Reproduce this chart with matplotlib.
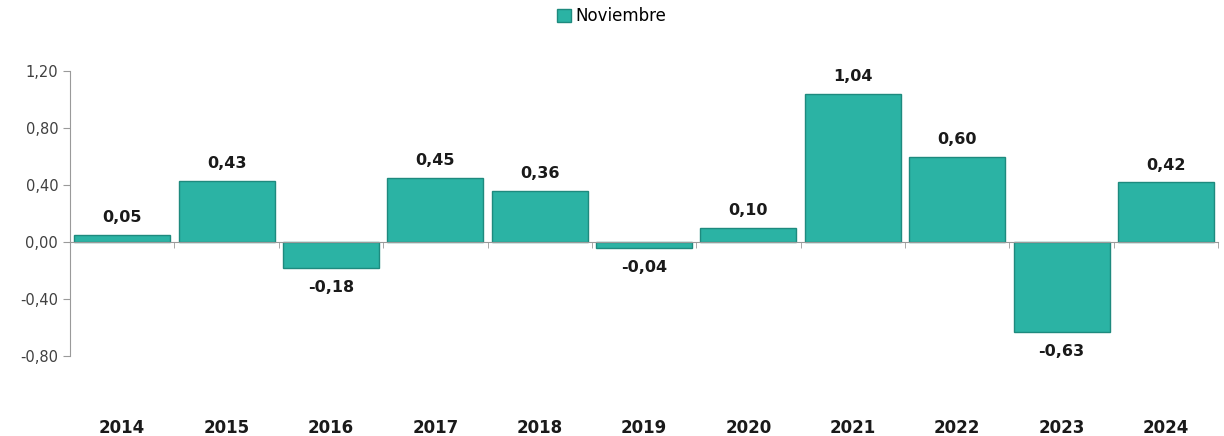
import numpy as np
import matplotlib.pyplot as plt
from matplotlib.patches import Patch

years = ['2014', '2015', '2016', '2017', '2018', '2019', '2020', '2021', '2022', '2023', '2024']
noviembre = [0.05, 0.43, -0.18, 0.45, 0.36, -0.04, 0.10, 1.04, 0.60, -0.63, 0.42]
yticks = [-0.80, -0.40, 0.00, 0.40, 0.80, 1.20]

bar_color = '#2bb3a4'
edge_color = '#1e8a7e'
gray = '#9a9a9a'

fig = plt.figure(figsize=(12.24, 4.36), dpi=100)
ax = fig.add_axes([0.0572, 0.183, 0.938, 0.654])

x = np.arange(len(years))
bars = ax.bar(x, noviembre, width=0.92, color=bar_color, edgecolor=edge_color, linewidth=1.0)

# value labels above positive / below negative bars
for xi, v in zip(x, noviembre):
    txt = f'{v:.2f}'.replace('.', ',')
    if v >= 0:
        ax.annotate(txt, (xi, v), xytext=(0, 7), textcoords='offset points',
                    ha='center', va='bottom', fontsize=11.5, fontweight='bold', color='#1a1a1a')
    else:
        ax.annotate(txt, (xi, v), xytext=(0, -9), textcoords='offset points',
                    ha='center', va='top', fontsize=11.5, fontweight='bold', color='#1a1a1a')

ax.set_xlim(-0.5, len(years) - 0.5)
ax.set_ylim(-0.80, 1.20)
ax.set_yticks(yticks)
ax.set_yticklabels([f'{t:.2f}'.replace('.', ',') for t in yticks], fontsize=10.5, color='#404040')

# zero axis with small ticks between categories, year labels far below
ax.spines['bottom'].set_position(('data', 0))
ax.spines['bottom'].set_color(gray)
ax.spines['left'].set_color(gray)
ax.spines['left'].set_bounds(-0.80, 1.20)
ax.spines['top'].set_visible(False)
ax.spines['right'].set_visible(False)
ax.set_xticks(x)
ax.set_xticklabels(years, fontsize=12, fontweight='bold', color='#1a1a1a')
ax.set_xticks(np.arange(len(years) + 1) - 0.5, minor=True)
ax.tick_params(axis='x', which='major', length=0, pad=127)
ax.tick_params(axis='x', which='minor', length=4, color=gray, direction='out')
ax.tick_params(axis='y', length=5, color=gray, direction='out')

handle = Patch(facecolor=bar_color, edgecolor=edge_color)
fig.legend([handle], ['Noviembre'], loc='upper center', bbox_to_anchor=(0.5, 1.018),
           frameon=False, fontsize=12, handlelength=0.8, handleheight=0.8, handletextpad=0.3)

fig.savefig('out.png', dpi=100)
